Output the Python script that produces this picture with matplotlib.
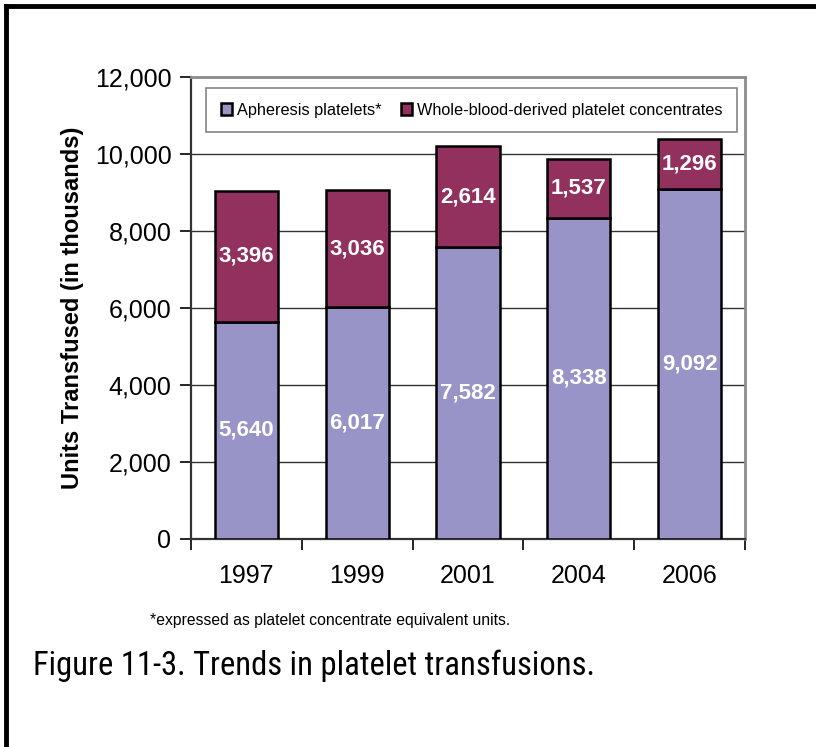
import numpy as np
import matplotlib.pyplot as plt
from matplotlib.lines import Line2D

years = ["1997", "1999", "2001", "2004", "2006"]
apheresis = [5640, 6017, 7582, 8338, 9092]
whole_blood = [3396, 3036, 2614, 1537, 1296]
yticks = [0, 2000, 4000, 6000, 8000, 10000, 12000]

APH_COLOR = "#9894C8"
WB_COLOR = "#92305E"

plt.rcParams["font.family"] = ["Liberation Sans", "DejaVu Sans"]

fig = plt.figure(figsize=(8.16, 7.47), dpi=100)
ax = fig.add_axes([0.234, 0.2785, 0.679, 0.6185])

x = np.arange(len(years))
w = 0.57
ax.bar(x, apheresis, w, color=APH_COLOR, edgecolor="black", linewidth=1.8,
       label="Apheresis platelets*", zorder=3)
ax.bar(x, whole_blood, w, bottom=apheresis, color=WB_COLOR, edgecolor="black",
       linewidth=1.8, label="Whole-blood-derived platelet concentrates", zorder=3)

for i in range(len(years)):
    ax.text(x[i], apheresis[i] / 2, f"{apheresis[i]:,}", ha="center", va="center",
            color="white", fontsize=16, fontweight="bold", zorder=4)
    ax.text(x[i], apheresis[i] + whole_blood[i] / 2, f"{whole_blood[i]:,}",
            ha="center", va="center", color="white", fontsize=16,
            fontweight="bold", zorder=4)

ax.set_xlim(-0.5, len(years) - 0.5)
ax.set_ylim(0, 12000)
ax.set_yticks(yticks)
ax.set_yticklabels([f"{v:,}" for v in yticks], fontsize=18)
ax.yaxis.grid(True, color="#333333", linewidth=1.0, zorder=0)
ax.set_axisbelow(True)

# category boundary ticks on x axis, labels centred
ax.set_xticks(np.arange(-0.5, len(years), 1.0))
ax.set_xticklabels([])
ax.set_xticks(x, minor=True)
ax.set_xticklabels(years, minor=True, fontsize=18)
ax.tick_params(axis="x", which="minor", length=0, pad=18)
ax.tick_params(axis="x", which="major", length=8, width=1.2, direction="out")
ax.tick_params(axis="y", length=8, width=1.2, direction="out", pad=6)

for s in ["left", "bottom"]:
    ax.spines[s].set_color("#333333")
    ax.spines[s].set_linewidth(1.6)
for s in ["top", "right"]:
    ax.spines[s].set_color("#8C8C8C")
    ax.spines[s].set_linewidth(2.0)

ax.set_ylabel("Units Transfused (in thousands)", fontsize=17, fontweight="bold",
              labelpad=8)

leg = ax.legend(loc="upper center", ncol=2, bbox_to_anchor=(0.507, 0.976),
                fontsize=11.7, frameon=True, fancybox=False, edgecolor="#666666",
                handlelength=0.7, handleheight=0.7, handletextpad=0.3,
                columnspacing=1.2, borderpad=0.9, borderaxespad=0)
leg.get_frame().set_linewidth(1.2)

fig.text(150 / 816, 1 - 620 / 747, "*expressed as platelet concentrate equivalent units.",
         fontsize=11.3, va="center", ha="left")
fig.text(33 / 816, 1 - 666 / 747, "Figure 11-3. Trends in platelet transfusions.",
         fontsize=23.5, va="center", ha="left",
         family=["Roboto Condensed", "Liberation Sans Narrow", "DejaVu Sans Condensed", "Liberation Sans"])

# outer frame (left and top edges)
fig.add_artist(Line2D([6 / 816, 6 / 816], [0, 1 - 6 / 747], color="black", linewidth=3.5,
                      transform=fig.transFigure))
fig.add_artist(Line2D([6 / 816, 1], [1 - 6 / 747, 1 - 6 / 747], color="black", linewidth=3.5,
                      transform=fig.transFigure))

fig.savefig("out.png", dpi=100)
